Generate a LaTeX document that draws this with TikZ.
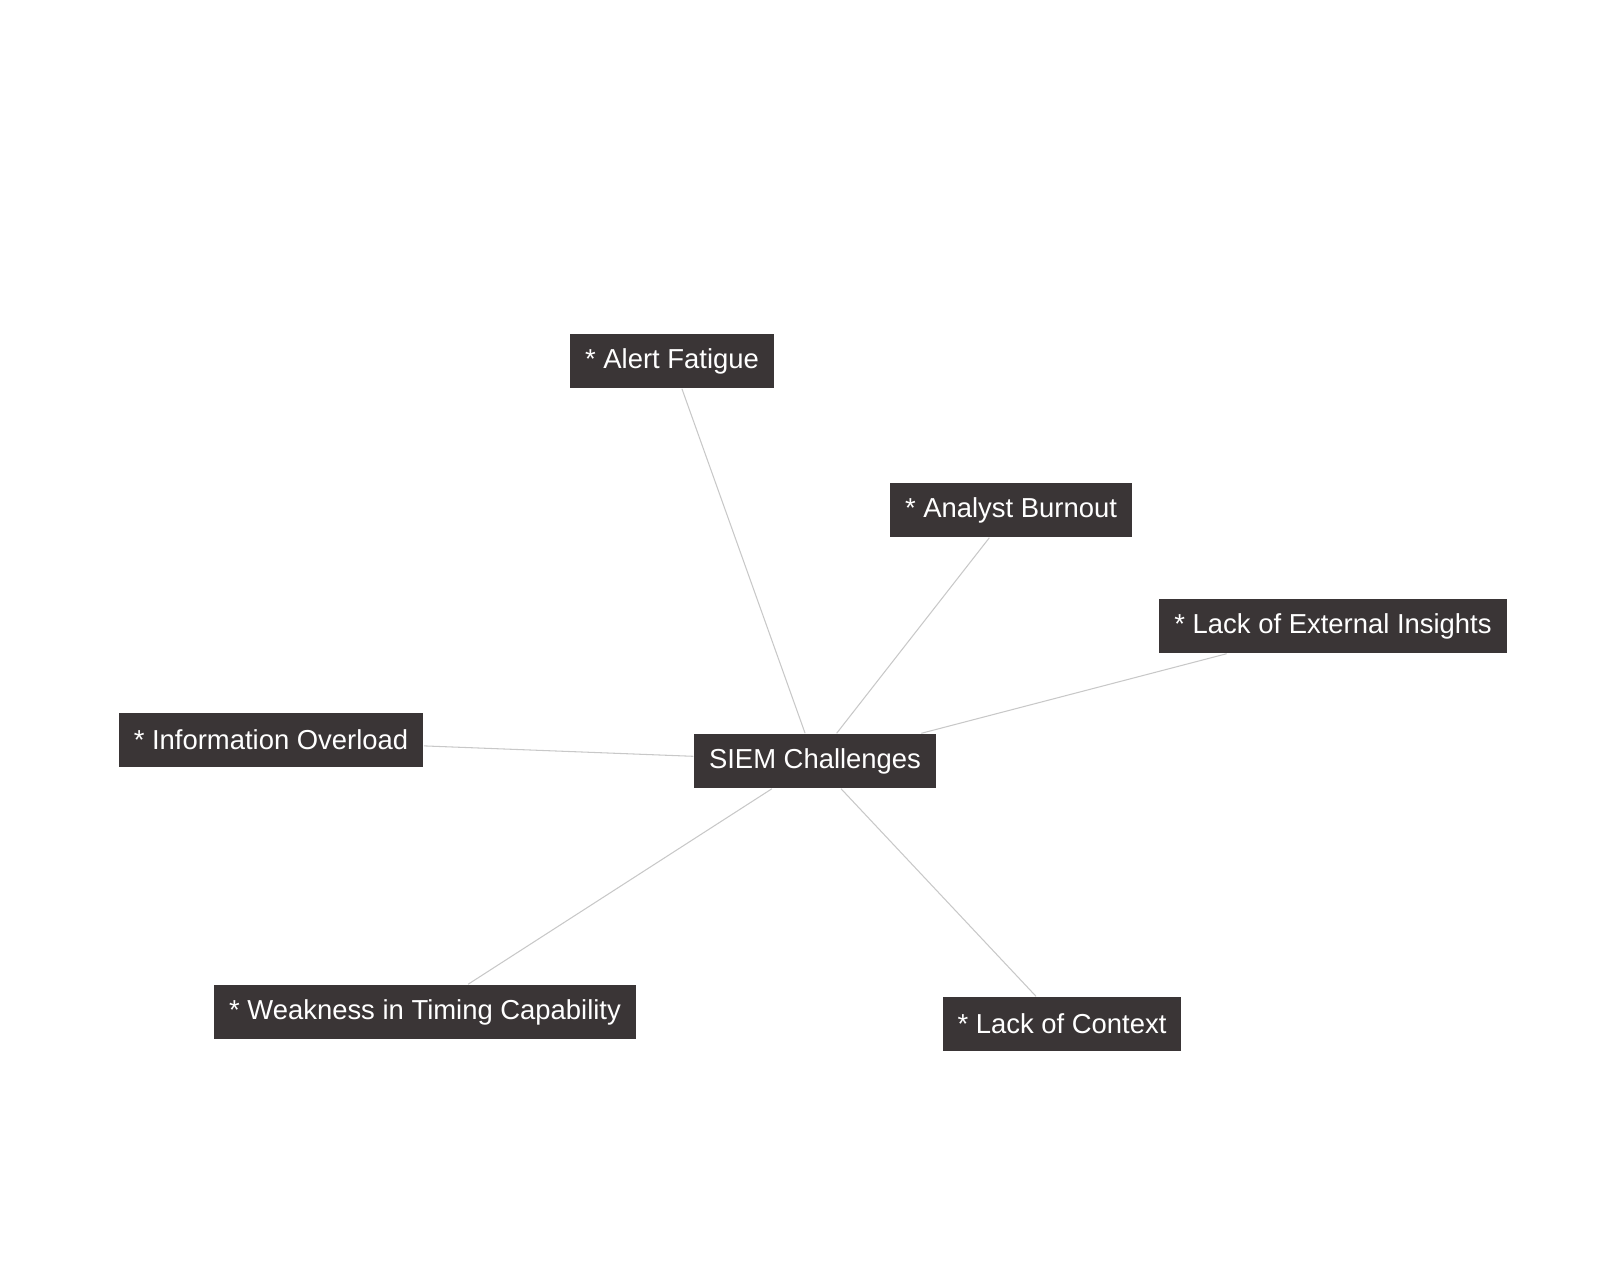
\documentclass[tikz,border=0pt]{standalone}
\usepackage{fontspec}
\setmainfont{Liberation Sans}
\definecolor{boxgray}{HTML}{3A3536}
\definecolor{linkgray}{HTML}{C8C8C8}
\begin{document}
\begin{tikzpicture} [x=0.01cm, y=-0.01cm,
    topic/.style = {fill=boxgray, text=white, minimum height=0.54cm, inner xsep=0.15cm,
                    font=\fontsize{7.8}{9}\selectfont},
    link/.style = {draw=linkgray, line width=0.3pt}]
    \useasboundingbox (0,0) rectangle (1600,1276);
    % place nodes
    \node [topic] (siem) at (815,761) {SIEM Challenges};
    \node [topic] (alert) at (672,361) {* Alert Fatigue};
    \node [topic] (burnout) at (1011,510) {* Analyst Burnout};
    \node [topic] (external) at (1333,626) {* Lack of External Insights};
    \node [topic] (overload) at (271,740) {* Information Overload};
    \node [topic] (timing) at (425,1012) {* Weakness in Timing Capability};
    \node [topic] (context) at (1062,1024) {* Lack of Context};

    % draw edges
    \foreach \leaf in {alert, burnout, external, overload, timing, context}
        \draw [link] (siem) -- (\leaf);
\end{tikzpicture}
\end{document}
